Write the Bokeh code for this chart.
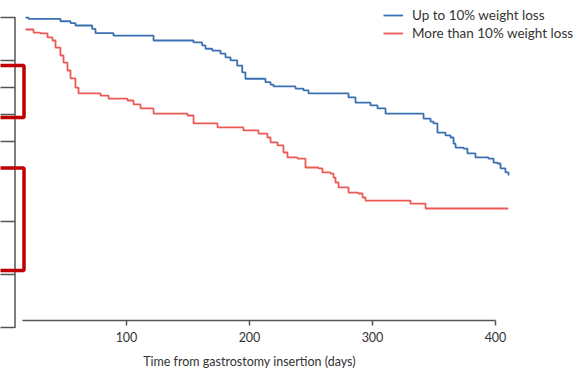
from bokeh.plotting import figure
from bokeh.models import Range1d, FixedTicker, Legend, LegendItem, Label
from bokeh.embed import file_html
from bokeh.resources import INLINE

# ---- data (days, survival fraction) ----
blue_days = [17.9, 20.3, 46.3, 54.5, 58.5, 72.1, 74.8, 89.4, 122.0, 154.5, 161.5, 164.2,
             169.7, 176.4, 180.5, 184.6, 190.0, 194.1, 196.7, 213.0, 217.1, 219.5, 237.4,
             243.9, 248.0, 280.5, 286.2, 298.4, 304.1, 310.6, 341.5, 347.2, 349.6, 352.8,
             359.3, 363.4, 365.9, 367.5, 374.0, 377.2, 383.7, 394.3, 398.4, 401.6, 404.1,
             408.1, 410.6]
blue_surv = [0.990, 0.986, 0.978, 0.972, 0.964, 0.953, 0.939, 0.931, 0.915, 0.909, 0.899, 0.888,
             0.882, 0.872, 0.860, 0.850, 0.833, 0.811, 0.790, 0.779, 0.771, 0.765, 0.758,
             0.752, 0.742, 0.729, 0.712, 0.703, 0.693, 0.676, 0.660, 0.650, 0.644, 0.614,
             0.605, 0.598, 0.578, 0.565, 0.562, 0.546, 0.533, 0.529, 0.516, 0.513, 0.497,
             0.484, 0.474]

red_days = [17.9, 24.4, 30.1, 35.8, 39.8, 42.3, 46.3, 48.8, 52.0, 54.5, 58.5, 61.0, 78.9,
            85.4, 100.8, 105.7, 111.4, 122.0, 149.6, 154.5, 174.0, 195.1, 207.3, 214.6,
            217.1, 222.8, 227.6, 230.9, 239.0, 245.5, 256.1, 259.3, 265.9, 268.3, 269.9,
            272.4, 280.5, 288.6, 291.9, 294.3, 330.9, 343.1, 409.8]
red_surv = [0.951, 0.941, 0.938, 0.925, 0.915, 0.892, 0.866, 0.843, 0.817, 0.791, 0.761, 0.742,
            0.735, 0.725, 0.719, 0.706, 0.693, 0.676, 0.670, 0.644, 0.631, 0.621, 0.611, 0.598,
            0.582, 0.572, 0.549, 0.533, 0.529, 0.500, 0.497, 0.484, 0.480, 0.467, 0.451,
            0.435, 0.418, 0.415, 0.402, 0.392, 0.382, 0.366, 0.363]

tick_days = [100, 200, 300, 400]
series_labels = ["Up to 10% weight loss", "More than 10% weight loss"]
x_label = "Time from gastrostomy insertion (days)"

# ---- layout ----
W, H = 586, 368
X0_PX, PX_PER_DAY = 3.0, 1.23      # pixel position of day 0, pixels per day
AXIS_PX, PX_PER_UNIT = 320.0, 306.0  # pixel row of survival 0, pixels per unit survival

def dx(px):
    return (px - X0_PX) / PX_PER_DAY

def dy(py):
    return (AXIS_PX - py) / PX_PER_UNIT

BLUE = "#3b70b0"
RED = "#ec5a55"
GREY = "#555555"
TEXT = "#333333"
FONT = "Lato"

p = figure(width=W, height=H, output_backend="svg", toolbar_location=None,
           x_range=Range1d(dx(0), dx(W)), y_range=Range1d(dy(H), dy(0)),
           min_border=0, min_border_left=0, min_border_right=0,
           min_border_top=0, min_border_bottom=0, y_axis_location=None,
           background_fill_color="white", border_fill_color="white")
p.outline_line_color = None
p.xgrid.visible = False
p.ygrid.visible = False

# left table remnant (decoration)
row_lines = [17, 60, 87, 114, 141, 221, 274, 327]
p.segment(x0=[dx(-5)] * len(row_lines), x1=[dx(14.5)] * len(row_lines),
          y0=[dy(r) for r in row_lines], y1=[dy(r) for r in row_lines],
          line_color=GREY, line_width=1.3)
p.segment(x0=[dx(14.5)], x1=[dx(14.5)], y0=[dy(16.5)], y1=[dy(327.5)],
          line_color=GREY, line_width=1.5)
# red highlight boxes
p.quad(left=[dx(-10), dx(-10)], right=[dx(23.5), dx(23.5)],
       top=[dy(65), dy(167.5)], bottom=[dy(117), dy(270)],
       fill_color=None, line_color="#c00000", line_width=3.5)

# survival curves
rb = p.step(blue_days, blue_surv, mode="after", line_color=BLUE, line_width=1.8)
rr = p.step(red_days, red_surv, mode="after", line_color=RED, line_width=1.8)

# x axis
ax = p.xaxis[0]
ax.fixed_location = 0
ax.bounds = (dx(22), 400)
ax.ticker = FixedTicker(ticks=tick_days)
ax.axis_line_color = GREY
ax.axis_line_width = 1.5
ax.major_tick_line_color = GREY
ax.major_tick_line_width = 1.5
ax.major_tick_in = 0
ax.major_tick_out = 5
ax.minor_tick_line_color = None
ax.major_label_text_font = FONT
ax.major_label_text_font_size = "12.5px"
ax.major_label_text_color = TEXT
ax.major_label_standoff = 6

# axis title, centred under the 0-400 day span
p.add_layout(Label(x=200, y=dy(361), text=x_label, text_align="center",
                   text_baseline="middle", text_font=FONT, text_font_size="12.5px",
                   text_color=TEXT))

legend = Legend(items=[LegendItem(label=series_labels[0], renderers=[rb]),
                       LegendItem(label=series_labels[1], renderers=[rr])],
                location=(383, 326), orientation="vertical",
                border_line_color=None, background_fill_alpha=0,
                padding=0, margin=0, spacing=0,
                glyph_width=20, glyph_height=18, label_height=18,
                label_standoff=9,
                label_text_font=FONT, label_text_font_size="13.5px",
                label_text_color=TEXT)
p.add_layout(legend)

open("out.html", "w").write(file_html(p, INLINE))
